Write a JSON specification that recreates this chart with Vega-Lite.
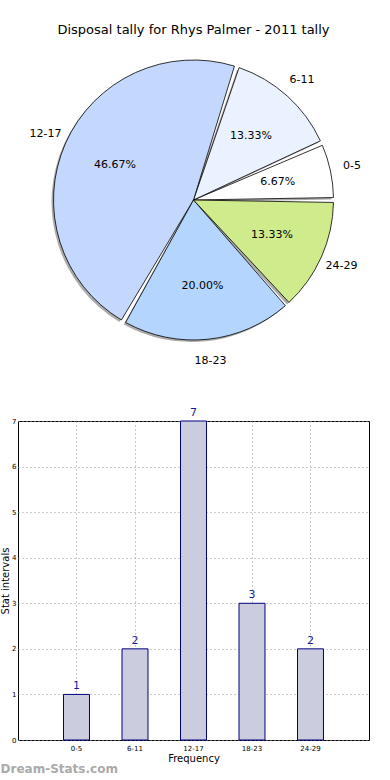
{
  "$schema": "https://vega.github.io/schema/vega-lite/v6.json",
  "padding": {"top": 24, "left": 0, "right": 0, "bottom": 0},
  "spacing": 39,
  "config": {"font": "DejaVu Sans", "view": {"stroke": null}},
  "datasets": {
    "tally": [
      {"i": 0, "range": "0-5", "count": 1, "pct": "6.67%"},
      {"i": 1, "range": "6-11", "count": 2, "pct": "13.33%"},
      {"i": 2, "range": "12-17", "count": 7, "pct": "46.67%"},
      {"i": 3, "range": "18-23", "count": 3, "pct": "20.00%"},
      {"i": 4, "range": "24-29", "count": 2, "pct": "13.33%"}
    ]
  },
  "vconcat": [
    {
      "title": {"text": "Disposal tally for Rhys Palmer - 2011 tally", "fontSize": 13, "fontWeight": "normal", "color": "#000", "offset": 18},
      "width": 351,
      "height": 290,
      "data": {"name": "tally"},
      "encoding": {
        "theta": {"field": "count", "type": "quantitative", "stack": true, "scale": {"range": [1.5708, 7.854]}},
        "order": {"field": "i", "type": "quantitative", "sort": "descending"}
      },
      "layer": [
        {"mark": {"type": "arc", "radius": 140, "padAngle": 0.035, "fill": "#888888", "opacity": 0.7, "xOffset": -2, "yOffset": 2}},
        {
          "mark": {"type": "arc", "radius": 140, "padAngle": 0.035, "stroke": "#000", "strokeWidth": 0.8},
          "encoding": {
            "color": {
              "field": "range", "type": "nominal",
              "scale": {"domain": ["0-5", "6-11", "12-17", "18-23", "24-29"], "range": ["#ffffff", "#eaf1ff", "#c4d8fe", "#b3d5fe", "#cfeb8b"]},
              "legend": null
            }
          }
        },
        {"mark": {"type": "text", "radius": 86, "fontSize": 11, "color": "#000"}, "encoding": {"text": {"field": "pct"}}},
        {"mark": {"type": "text", "radius": 162, "fontSize": 11, "color": "#000"}, "encoding": {"text": {"field": "range"}}}
      ]
    },
    {
      "width": 351,
      "height": 319,
      "data": {"name": "tally"},
      "view": {"stroke": "#000", "strokeWidth": 1},
      "title": {"text": "Dream-Stats.com", "orient": "bottom", "anchor": "start", "frame": "bounds", "fontSize": 12, "fontWeight": "bold", "color": "#aaaaaa", "offset": 1},
      "encoding": {
        "x": {
          "field": "range", "type": "nominal",
          "sort": ["0-5", "6-11", "12-17", "18-23", "24-29"],
          "scale": {"paddingInner": 0.556, "paddingOuter": 0.778},
          "axis": {"title": "Frequency", "labelAngle": 0, "labelFontSize": 7, "titleFontSize": 10, "titleFontWeight": "normal", "grid": true, "gridDash": [1, 3], "gridColor": "#999", "bandPosition": 0.5, "domain": false, "ticks": false, "labelPadding": 4, "titlePadding": 2, "labelColor": "#000", "titleColor": "#000"}
        },
        "y": {
          "field": "count", "type": "quantitative",
          "scale": {"domain": [0, 7], "nice": false},
          "axis": {"title": "Stat intervals", "values": [0, 1, 2, 3, 4, 5, 6, 7], "labelFontSize": 7, "titleFontSize": 10, "titleFontWeight": "normal", "grid": true, "gridDash": [1, 3], "gridColor": "#999", "domain": false, "ticks": false, "labelPadding": 2, "titlePadding": 1, "labelColor": "#000", "titleColor": "#000"}
        }
      },
      "layer": [
        {"mark": {"type": "bar", "fill": "#ccccdf", "stroke": "#000080", "strokeWidth": 1}},
        {"mark": {"type": "text", "dy": -3, "baseline": "bottom", "fontSize": 11, "color": "#1a1aa0"}, "encoding": {"text": {"field": "count"}}}
      ]
    }
  ]
}
